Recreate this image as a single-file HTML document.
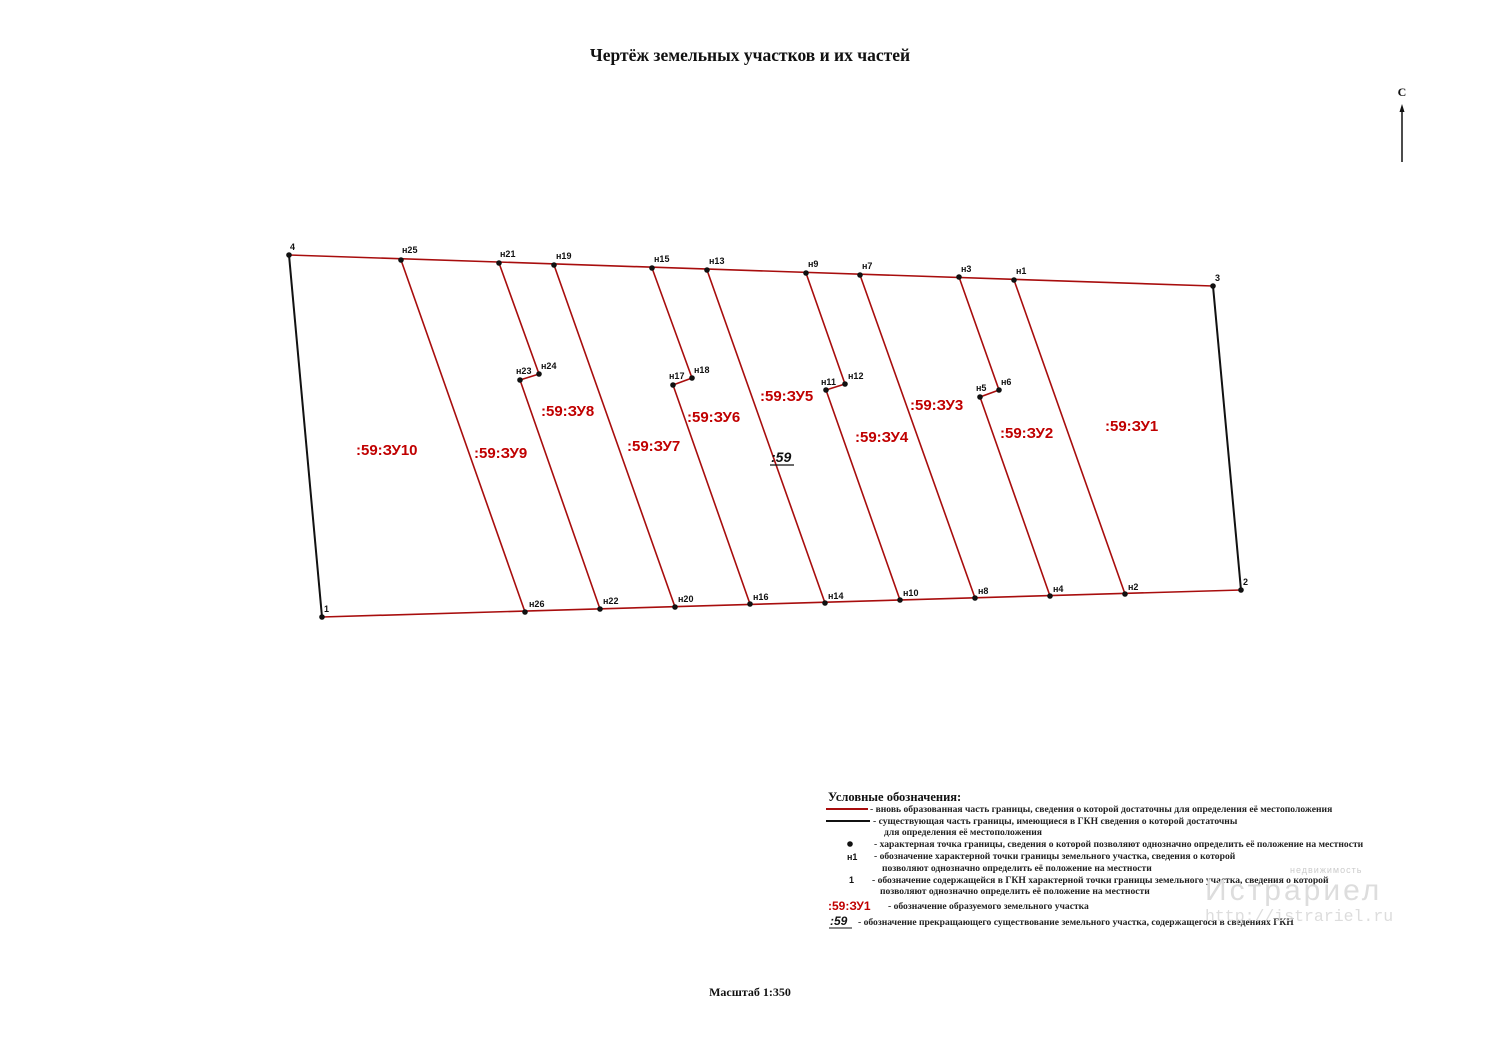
<!DOCTYPE html>
<html><head><meta charset="utf-8"><style>
html,body{margin:0;padding:0;background:#fff;}
svg{display:block}
.t{font-family:"Liberation Serif",serif;font-weight:bold;fill:#111}
.p{font-family:"Liberation Sans",sans-serif;font-weight:bold;font-size:9px;fill:#111}
.z{font-family:"Liberation Sans",sans-serif;font-weight:bold;font-size:15px;fill:#c00000}
.l{font-family:"Liberation Serif",serif;font-weight:bold;font-size:9.6px;fill:#222}
</style></head><body>
<svg width="1500" height="1061" viewBox="0 0 1500 1061" xmlns="http://www.w3.org/2000/svg">
<text class="t" x="750" y="61" font-size="17.5" text-anchor="middle">Чертёж земельных участков и их частей</text>
<text class="t" x="1402" y="96" font-size="12" text-anchor="middle">С</text>
<line x1="1402" y1="162" x2="1402" y2="108" stroke="#111" stroke-width="1.5"/>
<polygon points="1402,104 1399.5,112 1404.5,112" fill="#111"/>
<g stroke="#111" stroke-width="2" fill="none">
<line x1="289" y1="255" x2="322" y2="617"/>
<line x1="1213" y1="286" x2="1241" y2="590"/>
</g>
<g stroke="#a80d0d" stroke-width="1.6" fill="none">
<line x1="289" y1="255" x2="1213" y2="286"/>
<line x1="322" y1="617" x2="1241" y2="590"/>
<line x1="401" y1="260" x2="525" y2="612"/>
<polyline points="499,263 539,374 520,380 600,609"/>
<line x1="554" y1="265" x2="675" y2="607"/>
<polyline points="652,268 692,378 673,385 750,604"/>
<line x1="707" y1="270" x2="825" y2="603"/>
<polyline points="806,273 845,384 826,390 900,600"/>
<line x1="860" y1="275" x2="975" y2="598"/>
<polyline points="959,277 999,390 980,397 1050,596"/>
<line x1="1014" y1="280" x2="1125" y2="594"/>
</g>
<g fill="#111">
<circle cx="289" cy="255" r="2.8"/><circle cx="401" cy="260" r="2.8"/><circle cx="499" cy="263" r="2.8"/><circle cx="554" cy="265" r="2.8"/><circle cx="652" cy="268" r="2.8"/><circle cx="707" cy="270" r="2.8"/><circle cx="806" cy="273" r="2.8"/><circle cx="860" cy="275" r="2.8"/><circle cx="959" cy="277" r="2.8"/><circle cx="1014" cy="280" r="2.8"/><circle cx="1213" cy="286" r="2.8"/>
<circle cx="322" cy="617" r="2.8"/><circle cx="525" cy="612" r="2.8"/><circle cx="600" cy="609" r="2.8"/><circle cx="675" cy="607" r="2.8"/><circle cx="750" cy="604" r="2.8"/><circle cx="825" cy="603" r="2.8"/><circle cx="900" cy="600" r="2.8"/><circle cx="975" cy="598" r="2.8"/><circle cx="1050" cy="596" r="2.8"/><circle cx="1125" cy="594" r="2.8"/><circle cx="1241" cy="590" r="2.8"/>
<circle cx="539" cy="374" r="2.8"/><circle cx="520" cy="380" r="2.8"/><circle cx="692" cy="378" r="2.8"/><circle cx="673" cy="385" r="2.8"/><circle cx="845" cy="384" r="2.8"/><circle cx="826" cy="390" r="2.8"/><circle cx="999" cy="390" r="2.8"/><circle cx="980" cy="397" r="2.8"/>
</g>
<g class="p">
<text x="290" y="250">4</text><text x="402" y="253">н25</text><text x="500" y="257">н21</text><text x="556" y="259">н19</text><text x="654" y="262">н15</text><text x="709" y="264">н13</text><text x="808" y="267">н9</text><text x="862" y="269">н7</text><text x="961" y="272">н3</text><text x="1016" y="274">н1</text><text x="1215" y="281">3</text>
<text x="324" y="612">1</text><text x="529" y="607">н26</text><text x="603" y="604">н22</text><text x="678" y="602">н20</text><text x="753" y="600">н16</text><text x="828" y="599">н14</text><text x="903" y="596">н10</text><text x="978" y="594">н8</text><text x="1053" y="592">н4</text><text x="1128" y="590">н2</text><text x="1243" y="585">2</text>
<text x="516" y="374">н23</text><text x="541" y="369">н24</text><text x="669" y="379">н17</text><text x="694" y="373">н18</text><text x="821" y="385">н11</text><text x="848" y="379">н12</text><text x="976" y="391">н5</text><text x="1001" y="385">н6</text>
</g>
<g class="z">
<text x="356" y="455">:59:ЗУ10</text><text x="474" y="458">:59:ЗУ9</text><text x="541" y="416">:59:ЗУ8</text><text x="627" y="451">:59:ЗУ7</text><text x="687" y="422">:59:ЗУ6</text><text x="760" y="401">:59:ЗУ5</text><text x="855" y="442">:59:ЗУ4</text><text x="910" y="410">:59:ЗУ3</text><text x="1000" y="438">:59:ЗУ2</text><text x="1105" y="431">:59:ЗУ1</text>
</g>
<text x="771" y="462" font-family="Liberation Sans,sans-serif" font-weight="bold" font-style="italic" font-size="14" fill="#111">:59</text>
<line x1="770" y1="465" x2="794" y2="465" stroke="#111" stroke-width="1.2"/>
<text class="t" x="828" y="801" font-size="12.5">Условные обозначения:</text>
<line x1="826" y1="809" x2="868" y2="809" stroke="#a80d0d" stroke-width="2"/>
<line x1="826" y1="821" x2="870" y2="821" stroke="#111" stroke-width="2"/>
<circle cx="850" cy="844" r="2.8" fill="#111"/>
<g class="l">
<text x="870" y="812">- вновь образованная часть границы, сведения о которой достаточны для определения её местоположения</text>
<text x="873" y="824">- существующая часть границы, имеющиеся в ГКН сведения о которой достаточны</text>
<text x="884" y="835">для определения её местоположения</text>
<text x="874" y="847">- характерная точка границы, сведения о которой позволяют однозначно определить её положение на местности</text>
<text x="874" y="859">- обозначение характерной точки границы земельного участка, сведения о которой</text>
<text x="882" y="871">позволяют однозначно определить её положение на местности</text>
<text x="872" y="883">- обозначение содержащейся в ГКН характерной точки границы земельного участка, сведения о которой</text>
<text x="880" y="894">позволяют однозначно определить её положение на местности</text>
<text x="888" y="909">- обозначение образуемого земельного участка</text>
<text x="858" y="925">- обозначение прекращающего существование земельного участка, содержащегося в сведениях ГКН</text>
</g>
<text x="847" y="860" font-family="Liberation Sans,sans-serif" font-weight="bold" font-size="9" fill="#111">н1</text>
<text x="849" y="883" font-family="Liberation Sans,sans-serif" font-weight="bold" font-size="9" fill="#111">1</text>
<text x="828" y="910" font-family="Liberation Sans,sans-serif" font-weight="bold" font-size="12" fill="#c00000">:59:ЗУ1</text>
<text x="830" y="925" font-family="Liberation Sans,sans-serif" font-weight="bold" font-style="italic" font-size="12" fill="#111">:59</text>
<line x1="829" y1="928" x2="852" y2="928" stroke="#111" stroke-width="1"/>
<text x="1290" y="873" font-family="Liberation Sans,sans-serif" font-size="9" fill="#ccc" letter-spacing="1">недвижимость</text>
<text x="1205" y="900" font-family="Liberation Sans,sans-serif" font-size="30" fill="#ddd" letter-spacing="3">Истрариел</text>
<text x="1205" y="921" font-family="Liberation Mono,monospace" font-size="16.5" fill="#ddd">http://istrariel.ru</text>
<text class="t" x="750" y="996" font-size="12" text-anchor="middle">Масштаб 1:350</text>
</svg>
</body></html>
